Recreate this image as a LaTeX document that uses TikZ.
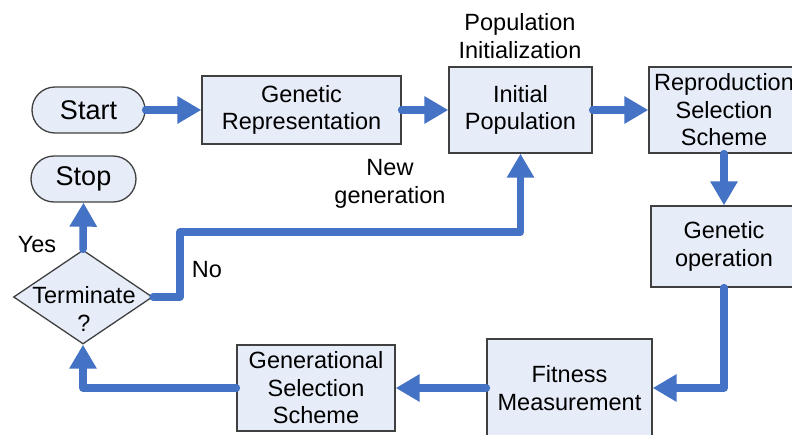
\documentclass[tikz,border=0pt]{standalone}
\usepackage{fontspec}
\setmainfont{Liberation Sans}
\usetikzlibrary{arrows.meta,shapes.geometric}
\definecolor{flowblue}{RGB}{68,114,196}
\definecolor{boxfill}{RGB}{230,236,248}
\definecolor{boxline}{RGB}{64,64,64}
\tikzset{
  base/.style={draw=boxline, line width=1.3pt, fill=boxfill, inner sep=0pt, align=center,
    font=\fontsize{23.5}{27.5}\selectfont},
  proc/.style={base, rectangle},
  term/.style={base, rounded corners=23pt, font=\fontsize{27}{31}\selectfont},
  decision/.style={base, diamond, minimum width=139pt, minimum height=94pt, aspect=1.48},
  txt/.style={align=center, inner sep=0pt, font=\fontsize{23.5}{27.5}\selectfont},
  flow/.style={draw=flowblue, line width=7.5pt, line cap=round, line join=round,
    -{Triangle[length=24pt,width=26pt]}},
}
\begin{document}
\begin{tikzpicture}[x=1pt,y=-1pt]
\useasboundingbox (0,0) rectangle (792,434);
\clip (0,0) rectangle (792,434);
\node[term, minimum width=113pt, minimum height=46pt] (start) at (88.5,110) {Start};
\node[term, minimum width=105pt, minimum height=46pt] (stop) at (83.5,179) {Stop};
\node[proc, minimum width=199pt, minimum height=68pt] (genrep) at (301.5,110) {Genetic\\Representation};
\node[proc, minimum width=143pt, minimum height=86pt] (initpop) at (520.5,110) {Initial\\Population};
\node[proc, minimum width=150pt, minimum height=86pt] (repro) at (724,110) {Reproduction\\Selection\\Scheme};
\node[proc, minimum width=146pt, minimum height=81pt] (genop) at (724,246.5) {Genetic\\operation};
\node[proc, minimum width=165pt, minimum height=98pt] (fitness) at (569.5,388) {Fitness\\Measurement};
\node[proc, minimum width=158pt, minimum height=86pt] (gensel) at (316,388) {Generational\\Selection\\Scheme};
\node[decision] (termq) at (83,297) {};
\node[txt] (termtxt) at (84,309) {Terminate\\?};
\node[txt] (popinit) at (520,36) {Population\\Initialization};
\node[txt] (newgen) at (390,184) {New\\generation};
\node[txt] (yes) at (37,245) {Yes};
\node[txt] (no) at (207,270) {No};
\coordinate (nb) at (180,232);
\draw[flow] (start) -- (genrep);
\draw[flow] (genrep) -- (initpop);
\draw[flow] (initpop) -- (repro);
\draw[flow] (repro) -- (genop);
\draw[flow] (genop.south) |- (fitness.east);
\draw[flow] (fitness) -- (gensel);
\draw[flow] (gensel.west) -| (termq.south);
\draw[flow] (termq.north) -- (stop.south);
\draw[flow] (termq.east) -| (nb) -| (initpop.south);
\end{tikzpicture}
\end{document}
